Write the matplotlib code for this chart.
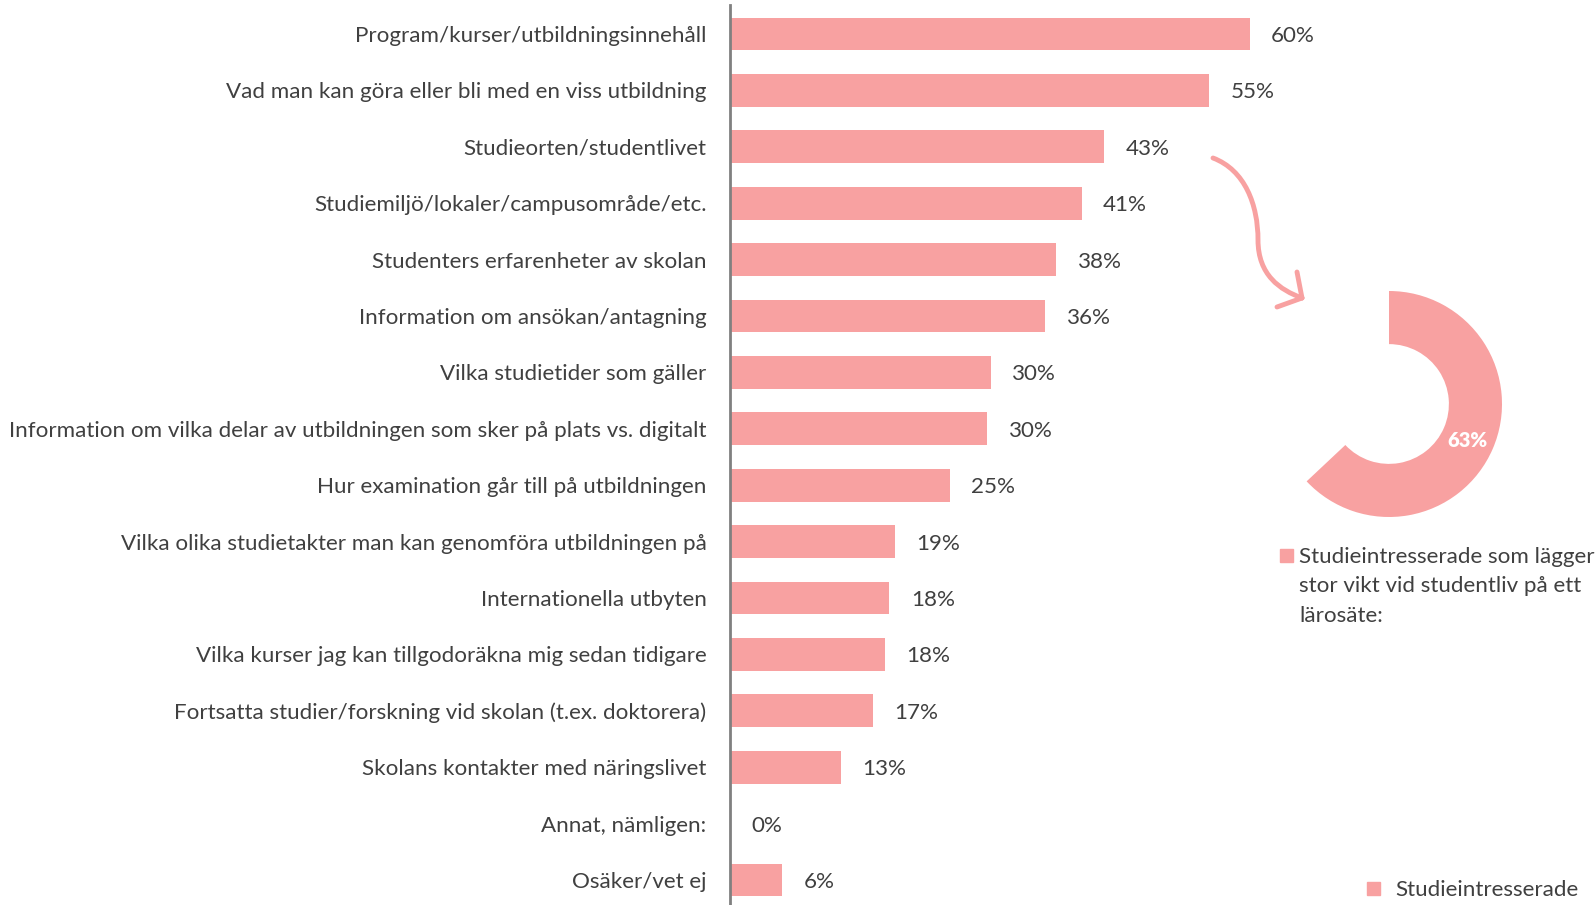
import numpy as np
import matplotlib.pyplot as plt
from matplotlib.path import Path
from matplotlib.patches import PathPatch, Rectangle

# Data
categories = [
    'Program/kurser/utbildningsinnehåll',
    'Vad man kan göra eller bli med en viss utbildning',
    'Studieorten/studentlivet',
    'Studiemiljö/lokaler/campusområde/etc.',
    'Studenters erfarenheter av skolan',
    'Information om ansökan/antagning',
    'Vilka studietider som gäller',
    'Information om vilka delar av utbildningen som sker på plats vs. digitalt',
    'Hur examination går till på utbildningen',
    'Vilka olika studietakter man kan genomföra utbildningen på',
    'Internationella utbyten',
    'Vilka kurser jag kan tillgodoräkna mig sedan tidigare',
    'Fortsatta studier/forskning vid skolan (t.ex. doktorera)',
    'Skolans kontakter med näringslivet',
    'Annat, nämligen:',
    'Osäker/vet ej',
]
values = [60, 55.3, 43.2, 40.6, 37.7, 36.4, 30.1, 29.7, 25.4, 19.0, 18.4, 17.9, 16.5, 12.8, 0, 6.0]
labels = ['60%', '55%', '43%', '41%', '38%', '36%', '30%', '30%', '25%', '19%', '18%', '18%', '17%', '13%', '0%', '6%']

donut_value = 63
donut_label = '63%'
donut_legend = ['Studieintresserade som lägger', 'stor vikt vid studentliv på ett', 'lärosäte:']
series_name = 'Studieintresserade'

color = '#F8A1A1'
text_color = '#404040'
plt.rcParams['font.family'] = ['Lato', 'DejaVu Sans']
fs = 16.1

W, H = 1596, 905
fig = plt.figure(figsize=(W / 100, H / 100), dpi=100)

# Bar chart axes
ax = fig.add_axes([730 / W, 0, 866 / W, 900 / H])
y = np.arange(len(categories))
ax.barh(y, values, height=0.58, color=color)
ax.set_xlim(0, 100)
ax.set_ylim(15 + 25 / 56.4, -0.514)
ax.set_yticks(y)
ax.set_yticklabels(categories, fontsize=fs, color=text_color, va='center_baseline')
ax.tick_params(axis='y', length=0, pad=17)
ax.set_xticks([])
for s in ['top', 'right', 'bottom']:
    ax.spines[s].set_visible(False)
ax.spines['left'].set_color('#808080')
ax.spines['left'].set_linewidth(2)

for yi, v, lab in zip(y, values, labels):
    ax.annotate(lab, (v, yi), xytext=(15.5, 0), textcoords='offset points',
                va='center_baseline', ha='left', fontsize=fs, color=text_color)

# Donut
cx, cy, r = 1389, 404, 113
dax = fig.add_axes([(cx - r) / W, (H - cy - r) / H, 2 * r / W, 2 * r / H])
dax.pie([donut_value, 100 - donut_value], colors=[color, 'none'], startangle=90,
        counterclock=False, wedgeprops=dict(width=0.47))
dax.set_xlim(-1, 1)
dax.set_ylim(-1, 1)
dax.set_aspect('equal')
dax.text((1467 - cx) / r, -(440 - cy) / r, donut_label, color='white', fontsize=14.5,
         fontweight='heavy', ha='center', va='center')

# Arrow
pts = [(1213, 158), (1245, 170), (1258, 205), (1258, 240),
       (1258, 275), (1280, 290), (1302, 298)]
codes = [Path.MOVETO, Path.CURVE4, Path.CURVE4, Path.CURVE4,
         Path.CURVE4, Path.CURVE4, Path.CURVE4]
fpts = [(px / W, 1 - py / H) for px, py in pts]
fig.add_artist(PathPatch(Path(fpts, codes), transform=fig.transFigure,
                         fill=False, edgecolor=color, lw=3.5, capstyle='round'))
for hx, hy in [(1297, 272), (1277, 307)]:
    fig.add_artist(plt.Line2D([1302 / W, hx / W], [1 - 298 / H, 1 - hy / H],
                              color=color, lw=3.5, solid_capstyle='round'))

# Legend for donut
fig.add_artist(Rectangle((1280 / W, 1 - 562 / H), 13 / W, 13 / H,
                         transform=fig.transFigure, color=color))
for i, line in enumerate(donut_legend):
    fig.text(1299 / W, 1 - (555 + 29.5 * i) / H, line, fontsize=fs,
             color=text_color, va='center_baseline', ha='left')

# Series legend
fig.add_artist(Rectangle((1367 / W, 1 - 895 / H), 13 / W, 13 / H,
                         transform=fig.transFigure, color=color))
fig.text(1395 / W, 1 - 888 / H, series_name, fontsize=fs, color=text_color,
         va='center_baseline', ha='left')

fig.savefig('out.png', dpi=100)
